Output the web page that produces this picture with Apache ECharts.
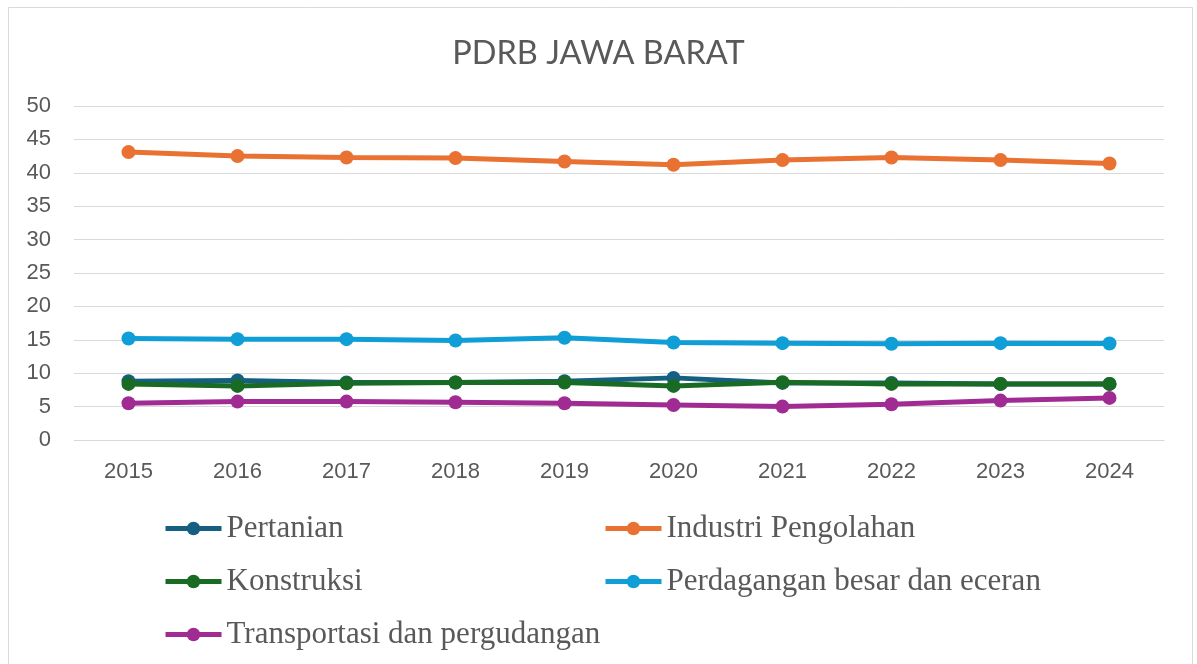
<!DOCTYPE html>
<html>
<head>
<meta charset="utf-8">
<script src="https://cdn.jsdelivr.net/npm/echarts@6/dist/echarts.min.js"></script>
<style>
html,body{margin:0;padding:0;background:#fff;}
#chart{width:1197px;height:664px;}
</style>
</head>
<body>
<div id="chart"></div>
<script>
const categories = ['2015','2016','2017','2018','2019','2020','2021','2022','2023','2024'];
const pertanian = [8.8, 8.9, 8.6, 8.6, 8.8, 9.3, 8.55, 8.55, 8.4, 8.4];
const industri = [43.1, 42.5, 42.3, 42.2, 41.7, 41.2, 41.9, 42.3, 41.9, 41.4];
const konstruksi = [8.4, 8.1, 8.5, 8.6, 8.6, 8.1, 8.65, 8.4, 8.4, 8.4];
const perdagangan = [15.2, 15.1, 15.1, 14.9, 15.3, 14.6, 14.5, 14.4, 14.5, 14.45];
const transportasi = [5.5, 5.75, 5.75, 5.65, 5.5, 5.25, 5.0, 5.35, 5.9, 6.3];
const names = ['Pertanian','Industri Pengolahan','Konstruksi','Perdagangan besar dan eceran','Transportasi dan pergudangan'];
const colors = ['#156082','#E97132','#196B24','#0F9ED5','#A02B93'];
const values = [pertanian, industri, konstruksi, perdagangan, transportasi];

const chart = echarts.init(document.getElementById('chart'));
const legendText = {fontFamily:'Liberation Serif', fontSize:31, color:'#595959', lineHeight:30};
const legendCommon = {
  orient:'vertical', padding:0, itemWidth:56, itemHeight:17, itemGap:22,
  textStyle: legendText, lineStyle:{width:5}, selectedMode:false
};
chart.setOption({
  backgroundColor:'#fff',
  animation:false,
  title:{
    text:'PDRB JAWA BARAT', left:'center', top:32,
    textStyle:{fontFamily:'Lato', fontWeight:'normal', fontSize:32.5, color:'#595959'}
  },
  graphic:[{type:'rect', shape:{x:8.5,y:7.5,width:1184,height:670}, style:{fill:'none', stroke:'#d9d9d9', lineWidth:1}, silent:true}],
  legend:[
    Object.assign({left:163, top:513, data:[names[0],names[2],names[4]]}, legendCommon),
    Object.assign({left:603, top:513, data:[names[1],names[3]]}, legendCommon)
  ],
  grid:{left:74, right:33, top:106, bottom:224, containLabel:false},
  xAxis:{
    type:'category', data:categories, boundaryGap:true,
    axisLine:{show:true, lineStyle:{color:'#d9d9d9', width:1}},
    axisTick:{show:false},
    axisLabel:{fontFamily:'Liberation Sans', fontSize:22, color:'#595959', margin:21}
  },
  yAxis:{
    type:'value', min:0, max:50, interval:5,
    axisLine:{show:false}, axisTick:{show:false},
    axisLabel:{fontFamily:'Liberation Sans', fontSize:22, color:'#595959', margin:23},
    splitLine:{lineStyle:{color:'#d9d9d9', width:1}}
  },
  series: names.map((n,i)=>({
    name:n, type:'line', data:values[i],
    symbol:'circle', symbolSize:14, showSymbol:true,
    lineStyle:{color:colors[i], width:5},
    itemStyle:{color:colors[i]},
    z: 2+i
  }))
});
</script>
</body>
</html>
